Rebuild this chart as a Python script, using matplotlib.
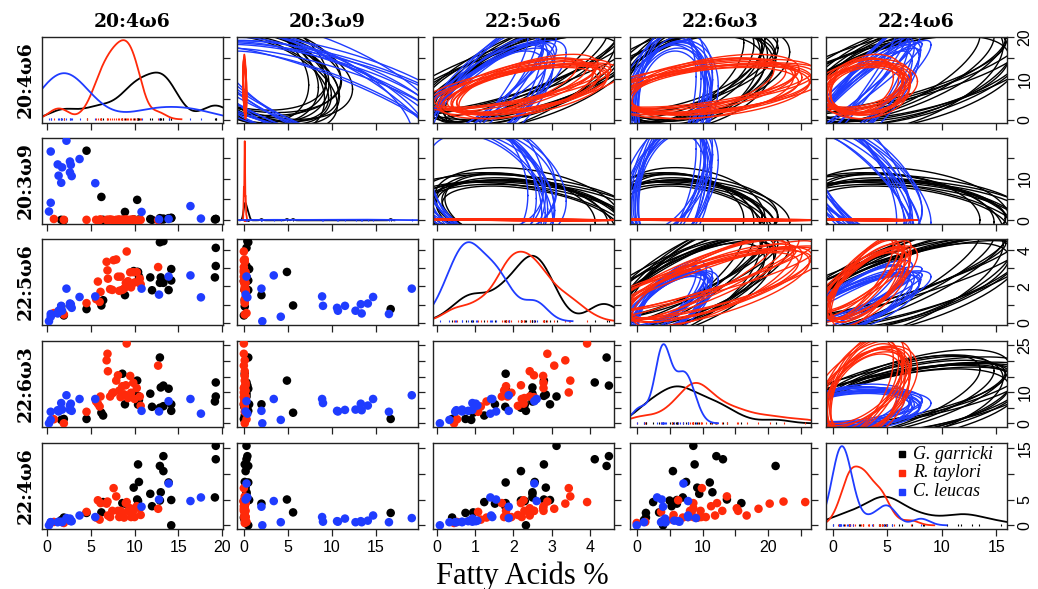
import numpy as np
import matplotlib.pyplot as plt

# fatty acid panels (rows / columns of the pairs plot)
fatty_acids = ["20:4ω6", "20:3ω9", "22:5ω6", "22:6ω3", "22:4ω6"]
species = ["G. garricki", "R. taylori", "C. leucas"]
colors = ["black", "#ff2a0a", "#1f3cff"]

# G. garricki, one value per individual
garricki_204w6 = [1.6, 1.9, 4.5, 6.2, 6.4, 8.9, 8.6, 9.9, 10.3, 10.5, 10.4, 11.8, 12.0,
                  12.9, 13.0, 13.3, 13.3, 12.9, 13.9, 14.2, 14.2, 19.3, 19.3, 19.2, 10.4]
garricki_203w9 = [0.1, 0.0, 16.7, 5.6, 0.1, 2.0, 0.1, 0.2, 4.9, 0.1, 0.0, 0.3, 0.1,
                  0.5, 0.3, 0.4, 0.2, 0.1, 0.5, 0.6, 0.5, 0.3, 0.3, 0.2, 0.1]
garricki_225w6 = [0.9, 0.4, 0.75, 0.95, 1.24, 1.52, 1.8, 2.85, 2.8, 2.56, 2.3, 2.5, 1.79,
                  4.44, 2.5, 4.5, 2.2, 2.2, 1.8, 2.96, 2.33, 3.13, 4.13, 2.5, 2.8]
garricki_226w3 = [1.1, 1.4, 1.4, 3.4, 2.5, 6.1, 15.9, 9.2, 13.7, 7.5, 6.0, 9.5, 5.3,
                  21.1, 11.5, 12.1, 5.5, 5.0, 11.1, 6.1, 4.0, 8.6, 13.1, 7.0, 8.8]
garricki_224w6 = [1.0, 1.5, 2.4, 2.5, 4.5, 4.2, 4.3, 7.3, 5.0, 8.4, 4.7, 6.1, 3.7,
                  11.5, 6.4, 13.4, 10.5, 4.8, 8.3, 4.9, 0.0, 15.4, 12.8, 5.4, 11.8]

# R. taylori
taylori_204w6 = [0.76, 1.9, 4.5, 5.8, 6.0, 6.1, 6.8, 6.9, 6.95, 7.2, 7.45, 7.6, 7.9, 8.1, 8.25,
                 8.4, 8.6, 8.8, 9.0, 9.1, 9.25, 9.5, 9.85, 10.0, 10.25, 10.6, 10.7, 12.7, 9.6, 5.6]
taylori_203w9 = [0.3, 0.1, 0.1, 0.0, 0.1, 0.2, 0.1, 0.0, 0.1, 0.2, 0.1, 0.0, 0.1, 0.1, 0.2,
                 0.0, 0.1, 0.1, 0.2, 0.0, 0.1, 0.1, 0.2, 0.1, 0.0, 0.1, 0.1, 0.0, 0.1, 0.1]
taylori_225w6 = [0.53, 0.45, 1.08, 2.27, 1.15, 1.7, 3.36, 2.89, 2.43, 1.85, 1.81, 3.45, 3.49, 2.54, 1.76,
                 2.54, 1.81, 1.88, 2.2, 3.93, 2.29, 2.78, 2.79, 2.22, 2.79, 2.43, 2.12, 3.07, 1.95, 1.3]
taylori_226w3 = [1.3, 0.0, 3.7, 6.3, 5.4, 8.6, 20.2, 22.3, 16.7, 8.6, 9.7, 9.9, 13.7, 15.4, 10.5,
                 8.4, 11.9, 9.3, 12.2, 25.6, 8.1, 15.2, 13.0, 7.8, 11.3, 8.6, 5.6, 18.5, 9.8, 7.0]
taylori_224w6 = [0.65, 0.45, 2.6, 4.85, 1.1, 4.3, 4.2, 4.6, 1.9, 1.6, 2.8, 7.2, 5.6, 2.8, 1.6,
                 2.8, 1.9, 1.5, 4.3, 4.5, 2.8, 3.3, 2.8, 1.6, 3.7, 3.3, 2.0, 3.2, 1.6, 1.5]

# C. leucas
leucas_204w6 = [0.2, 0.4, 17.6, 16.4, 10.8, 5.5, 1.6, 2.8, 1.3, 2.6, 1.7, 2.7, 1.2, 2.6,
                3.7, 0.4, 2.2, 12.8, 13.9]
leucas_203w9 = [2.1, 4.2, 0.4, 3.4, 2.0, 8.9, 9.0, 10.6, 10.7, 11.5, 12.7, 13.3, 13.4, 14.1,
                14.7, 16.5, 19.1, 0.2, 0.3]
leucas_225w6 = [0.08, 0.33, 1.4, 2.61, 1.88, 1.45, 0.93, 0.82, 0.66, 0.93, 0.66, 1.02, 0.51, 1.06,
                1.42, 0.48, 1.88, 1.55, 2.55]
leucas_226w3 = [0.0, 1.1, 3.1, 7.8, 4.0, 7.8, 6.5, 4.0, 3.8, 4.3, 4.4, 6.3, 4.2, 5.7,
                7.8, 3.7, 9.0, 3.8, 7.1]
leucas_224w6 = [0.0, 0.6, 5.4, 4.7, 3.6, 1.6, 0.7, 0.8, 0.7, 1.3, 0.6, 0.8, 0.6, 0.9,
                1.9, 0.6, 1.4, 5.0, 8.1]

# hand-picked spread of the posterior ellipse draws
draw_sx = [0.80, 0.90, 0.94, 0.98, 1.00, 1.03, 1.07, 1.12, 1.17, 0.86, 0.96, 1.05, 1.22, 0.92]
draw_sy = [1.10, 0.90, 1.16, 0.95, 1.02, 0.84, 1.06, 0.97, 0.88, 1.18, 1.12, 0.93, 1.00, 1.05]
draw_mx = [-0.30, 0.18, 0.08, -0.12, 0.27, -0.22, 0.03, 0.36, -0.07, 0.15, -0.33, 0.12, -0.18, 0.22]
draw_my = [0.15, -0.27, 0.33, 0.06, -0.15, 0.22, -0.36, 0.03, 0.18, -0.09, 0.12, -0.21, 0.30, -0.04]
draw_dr = [0.07, -0.11, 0.03, 0.13, -0.06, 0.09, -0.13, 0.00, 0.08, -0.08, 0.04, -0.03, 0.11, -0.07]

data = [
    [garricki_204w6, garricki_203w9, garricki_225w6, garricki_226w3, garricki_224w6],
    [taylori_204w6, taylori_203w9, taylori_225w6, taylori_226w3, taylori_224w6],
    [leucas_204w6, leucas_203w9, leucas_225w6, leucas_226w3, leucas_224w6],
]
data = [[np.array(v, dtype=float) for v in sp] for sp in data]

lims = [(-0.6, 20.07), (-0.78, 19.75), (-0.1, 4.62), (-1.02, 26.4), (-0.62, 15.95)]
ticks = [[0, 5, 10, 15, 20], [0, 5, 10, 15], [0, 1, 2, 3, 4], [0, 5, 10, 15, 20, 25], [0, 5, 10, 15]]
x_labels = [["0", "5", "10", "15", "20"], ["0", "5", "10", "15"], ["0", "1", "2", "3", "4"],
            ["0", "", "10", "", "20", ""], ["0", "5", "10", "15"]]
y_labels = [["0", "", "10", "", "20"], ["0", "", "10", ""], ["0", "", "2", "", "4"],
            ["0", "", "10", "", "", "25"], ["0", "5", "", "15"]]


def bw_nrd0(x):
    sd = x.std(ddof=1)
    q75, q25 = np.percentile(x, [75, 25])
    lo = min(sd, (q75 - q25) / 1.34)
    if lo <= 0:
        lo = sd
    return 0.9 * lo * len(x) ** -0.2


def density(x):
    bw = bw_nrd0(x)
    grid = np.linspace(x.min() - 3 * bw, x.max() + 3 * bw, 512)
    z = (grid[:, None] - x[None, :]) / bw
    return grid, np.exp(-0.5 * z ** 2).sum(1) / (len(x) * bw * np.sqrt(2 * np.pi))


def ellipse(xv, yv, k):
    sx, sy = xv.std(ddof=1) * draw_sx[k], yv.std(ddof=1) * draw_sy[k]
    mx, my = xv.mean() + draw_mx[k] * sx, yv.mean() + draw_my[k] * sy
    r = np.clip(np.corrcoef(xv, yv)[0, 1] + draw_dr[k], -0.97, 0.97)
    L = np.linalg.cholesky([[sx * sx, r * sx * sy], [r * sx * sy, sy * sy]])
    t = np.linspace(0, 2 * np.pi, 240)
    pts = 2.448 * L @ np.vstack([np.cos(t), np.sin(t)])
    return pts[0] + mx, pts[1] + my


fig = plt.figure(figsize=(10.38, 5.89), dpi=100)
W, H = 1038, 589
col_left = [42, 237, 433, 630, 826]
row_top = [37, 138, 239, 341, 443]
pw, ph = 180.5, 85.5

tick_font = dict(family="Liberation Sans", size=11.5)
title_font = dict(family="DejaVu Serif", size=13.5, weight="bold")

for i in range(5):
    for j in range(5):
        ax = fig.add_axes([col_left[j] / W, 1 - (row_top[i] + ph) / H, pw / W, ph / H])
        xlo, xhi = lims[j]
        ylo, yhi = lims[i]
        if i == j:
            pad = (yhi - ylo) * 0.04 / 1.08
            base, top = ylo + pad, yhi - pad
            curves = [density(sp[i]) for sp in data]
            dmax = max(c[1].max() for c in curves)
            for (g, d), sp, col in zip(curves, data, colors):
                ax.plot(g, base + d / dmax * (top - base), color=col, lw=1.3)
                ax.vlines(sp[i], base - 0.012 * (yhi - ylo), base + 0.015 * (yhi - ylo),
                          color=col, lw=0.8)
        elif i > j:
            for sp, col in zip(data, colors):
                ax.scatter(sp[j], sp[i], s=38, color=col, edgecolors="none", zorder=3)
        else:
            for s in [0, 2, 1]:
                for k in range(len(draw_sx)):
                    ex, ey = ellipse(data[s][j], data[s][i], k)
                    ax.plot(ex, ey, color=colors[s], lw=1.0)
        ax.set_xlim(xlo, xhi)
        ax.set_ylim(ylo, yhi)
        ax.set_xticks(ticks[j])
        ax.set_yticks(ticks[i])
        ax.yaxis.tick_right()
        ax.tick_params(direction="out", length=5, width=0.9, pad=3, color="#222222",
                       bottom=True, right=True, left=False, top=False,
                       labelbottom=(i == 4), labelright=(j == 4), labelleft=False)
        if i == 4:
            ax.set_xticklabels(x_labels[j], fontdict=tick_font)
        if j == 4:
            ax.set_yticklabels(y_labels[i], fontdict=tick_font, rotation=90, va="center")
        for sp_ in ax.spines.values():
            sp_.set_linewidth(1.0)
            sp_.set_color("#222222")

        if i == 0:
            ax.set_title(fatty_acids[j], fontdict=title_font, pad=7)
        if j == 0:
            ax.set_ylabel(fatty_acids[i], fontdict=title_font, labelpad=5)
            ax.yaxis.set_label_position("left")

        if i == 4 and j == 4:
            for n, (name, col) in enumerate(zip(species, colors)):
                yf = 0.87 - n * 0.22
                ax.plot([0.42], [yf], marker="s", ms=5, color=col, transform=ax.transAxes,
                        clip_on=False)
                ax.text(0.48, yf, name, transform=ax.transAxes, va="center", ha="left",
                        family="Liberation Serif", style="italic", size=13)

fig.text(522 / W, 1 - 576 / H, "Fatty Acids %", ha="center", va="center",
         family="Liberation Serif", size=22)

fig.savefig("out.png", dpi=100)
